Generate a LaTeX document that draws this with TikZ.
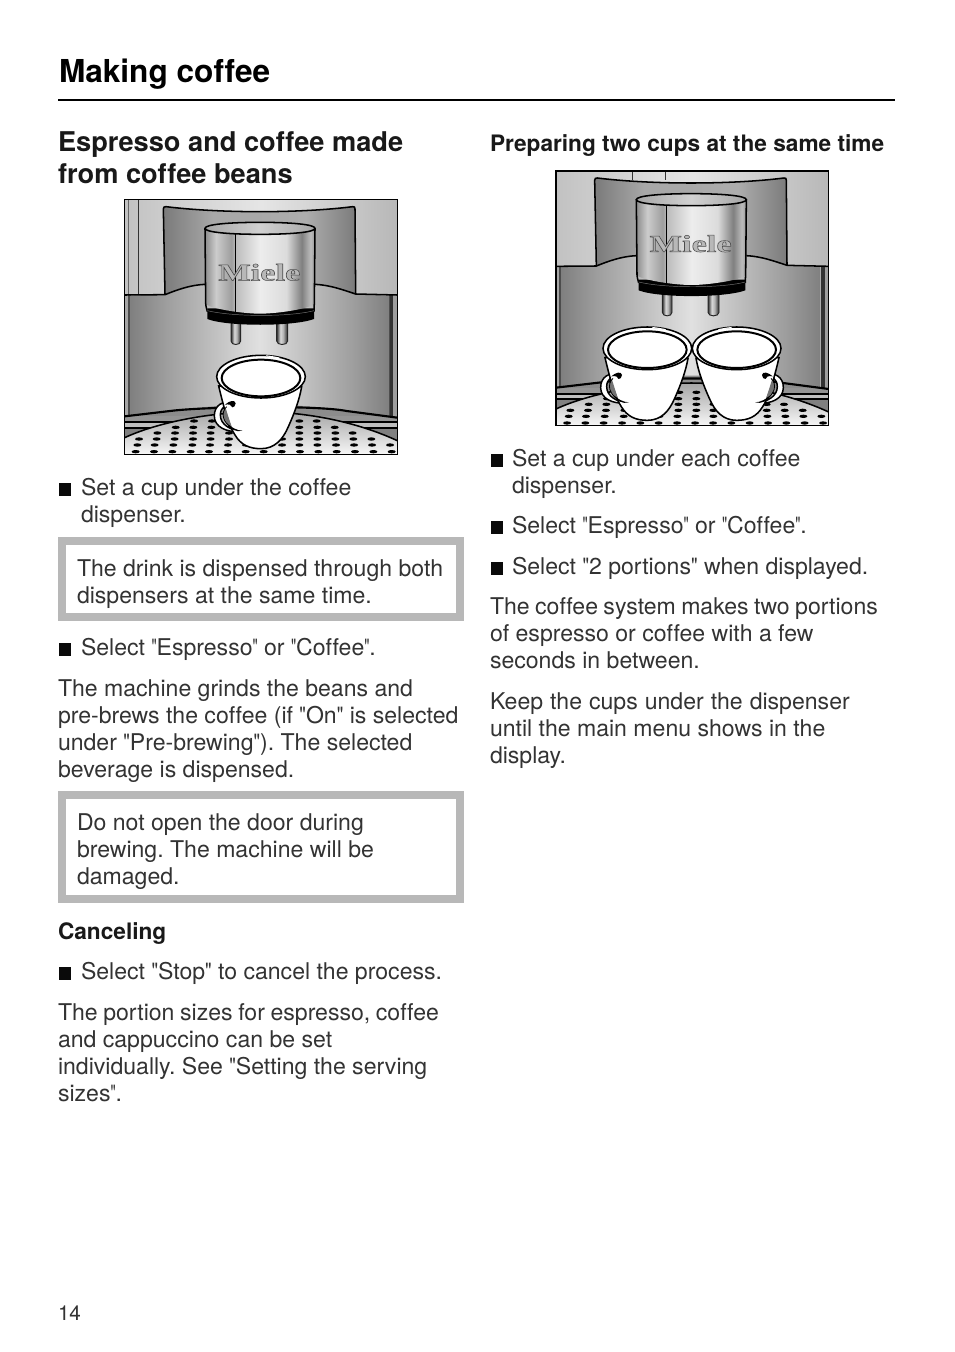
\documentclass[tikz,border=0pt]{standalone}
\usepackage{fontspec}
\usepackage{graphicx}
\setmainfont{TeX Gyre Heros}[Ligatures={TeXOff,NoCommon}]
\newfontfamily\logofont{Liberation Serif}
\usetikzlibrary{calc}
\definecolor{ink}{gray}{0.2}
\definecolor{boxgray}{gray}{0.72}
\newcommand{\qk}{\scalebox{0.8}[1]{"}}
\newcommand{\qw}{\scalebox{0.63}[1]{"}}
\pgfdeclarehorizontalshading{bgshade}{100bp}{color(0bp)=(black!20); color(25bp)=(black!24); color(50bp)=(black!10); color(75bp)=(black!28); color(100bp)=(black!28)}
\pgfdeclarehorizontalshading{uppershade}{100bp}{color(0bp)=(black!52); color(25bp)=(black!52); color(38bp)=(black!34); color(50bp)=(black!34); color(62bp)=(black!32); color(75bp)=(black!52); color(100bp)=(black!52)}
\pgfdeclarehorizontalshading{lowershade}{100bp}{color(0bp)=(black!50); color(25bp)=(black!50); color(32bp)=(black!38); color(50bp)=(black!12); color(68bp)=(black!38); color(75bp)=(black!50); color(100bp)=(black!50)}
\pgfdeclarehorizontalshading{cylshade}{100bp}{color(0bp)=(black!45); color(25bp)=(black!45); color(30bp)=(black!20); color(37bp)=(black!38); color(39bp)=(black!26); color(50bp)=(black!7); color(62bp)=(black!14); color(69bp)=(black!50); color(73bp)=(black!26); color(75bp)=(black!42); color(100bp)=(black!42)}
\pgfdeclarehorizontalshading{pipeshade}{100bp}{color(0bp)=(black!80); color(25bp)=(black!80); color(42bp)=(black!15); color(55bp)=(black!30); color(75bp)=(black!85); color(100bp)=(black!85)}
\tikzset{
  txt/.style={anchor=base west,inner sep=0pt,outer sep=0pt,text=ink,font=\fontsize{17.3pt}{20.475pt}\selectfont\frenchspacing},
  subhead/.style={txt,text=black!90,font=\fontsize{17.0pt}{20.475pt}\selectfont\bfseries\frenchspacing},
  head/.style={txt,text=black!90,font=\fontsize{20.4pt}{24pt}\selectfont\bfseries},
  title/.style={txt,text=black,font=\fontsize{23.7pt}{28pt}\selectfont\bfseries},
  pagenum/.style={txt,font=\fontsize{15.5pt}{18pt}\selectfont},
  bulletmark/.style={anchor=south west,inner sep=0pt,outer sep=0pt,minimum width=9.4pt,minimum height=9.4pt,fill=ink!120},
  notebox/.style={anchor=north west,inner sep=0pt,outer sep=0pt,draw=boxgray,fill=white,line width=6pt},
  edge/.style={line width=1.15pt,black},
  hair/.style={line width=0.45pt,black},
}
\newcommand{\paralines}[1]{\begin{tabular}[t]{@{}l@{}}#1\end{tabular}}
% cup: zoom coordinates; origin at the rim centre
\newcommand{\cupdraw}[4]{% #1 x, #2 y, #3 xscale, #4 rotation
 \begin{scope}[shift={(#1,#2)},rotate=#4,xscale=#3]
  % handle
  \draw[line width=1.1pt,fill=white] (-82,76) .. controls (-115,72) and (-140,85) .. (-140,118) .. controls (-140,150) and (-105,168) .. (-62,164) .. controls (-90,160) and (-122,145) .. (-122,115) .. controls (-122,92) and (-105,82) .. (-82,76) -- cycle;
  % body
  \draw[edge,fill=white] (-127,28) .. controls (-110,100) and (-95,150) .. (-78,175) .. controls (-60,205) and (-35,216) .. (0,216) .. controls (40,216) and (65,190) .. (82,150) .. controls (100,110) and (115,70) .. (122,30) -- cycle;
  % window in the handle
  \fill[black!55] (-106,94) .. controls (-120,108) and (-114,134) .. (-88,150) -- (-98,120) -- cycle;
  \draw[line width=0.6pt] (-103,90) .. controls (-122,108) and (-116,138) .. (-82,158);
  % tip of the handle
  \fill[black] (-108,84) .. controls (-95,72) and (-78,68) .. (-76,80) .. controls (-76,88) and (-82,92) .. (-86,92) .. controls (-88,84) and (-96,82) .. (-108,84) -- cycle;
  % foot of the handle
  \fill[black] (-104,138) .. controls (-92,158) and (-75,168) .. (-55,162) .. controls (-72,162) and (-90,152) .. (-104,138) -- cycle;
  % rim
  \draw[edge,fill=white] (0,0) ellipse [x radius=133,y radius=64];
  \draw[line width=1.5pt,fill=white] (0,4) ellipse [x radius=118,y radius=55];
  \draw[white,line width=0.8pt] (15,-62.5) .. controls (30,-61) and (45,-58) .. (55,-56);
 \end{scope}}
% illustration without cups; zoom coordinates: 3 units to the pixel
\newcommand{\machine}[2]{% #1 name prefix, #2 extra lines
  \begin{scope}
  \clip (14,14) rectangle (832,778);
  \shade[shading=bgshade] (14,14) rectangle (832,302);
  #2
  % side strips
  \fill[black!35] (14,300) rectangle (24,670);
  \fill[black!70] (24,300) rectangle (32,670);
  \fill[black!80] (808,300) rectangle (820,670);
  \fill[black!38] (820,300) rectangle (832,670);
  % lower panel
  \shade[shading=lowershade] (30,302) -- (135,298) .. controls (170,285) and (210,270) .. (255,268) -- (585,268) .. controls (630,270) and (670,285) .. (705,297) -- (808,302) -- (808,670) -- (30,670) -- cycle;
  % upper panel
  \shade[shading=uppershade] (135,298) -- (130,42) .. controls (130,36) and (133,35) .. (138,35) .. controls (300,55) and (540,55) .. (698,35) .. controls (703,35) and (705,36) .. (705,42) -- (708,297) .. controls (670,285) and (630,270) .. (585,268) -- (255,268) .. controls (210,270) and (170,285) .. (135,298) -- cycle;
  \draw[edge] (14,300) -- (135,299) .. controls (170,285) and (210,270) .. (255,268);
  \draw[edge] (585,268) .. controls (630,270) and (670,285) .. (707,297) -- (832,300);
  \draw[edge] (135,298) -- (130,42) .. controls (130,36) and (133,35) .. (138,35) .. controls (300,55) and (540,55) .. (698,35) .. controls (703,35) and (705,36) .. (705,42) -- (707,297);
  % bands under the panel
  \fill[black!45] (14,664) .. controls (150,648) and (280,628) .. (420,628) .. controls (560,628) and (700,648) .. (832,668) -- (832,778) -- (14,778) -- cycle;
  \fill[black!42] (14,664) rectangle (832,680);
  \fill[black!25] (14,684) rectangle (832,696);
  \fill[black!50] (14,700) rectangle (832,745);
  \draw[line width=1.6pt] (14,664) -- (150,648) .. controls (250,635) and (590,630) .. (680,648) -- (832,668);
  \draw[line width=1.3pt] (14,682) -- (832,682);
  \draw[line width=1.3pt] (14,698) -- (832,698);
  % tray
  \shade[top color=black!35,bottom color=black!3] (14,728) .. controls (100,688) and (250,652) .. (420,650) .. controls (590,652) and (730,690) .. (832,737) -- (832,778) -- (14,778) -- cycle;
  \draw[edge] (14,728) .. controls (100,688) and (250,652) .. (420,650) .. controls (590,652) and (730,690) .. (832,737);
  \begin{scope}
   \clip (14,728) .. controls (100,688) and (250,652) .. (420,650) .. controls (590,652) and (730,690) .. (832,737) -- (832,778) -- (14,778) -- cycle;
   \foreach \r/\xs in {678/{222,276,330,384,435,486,538,590},
                       697/{167,220,274,328,381,435,486,538,592,644},
                       714/{112,165,219,272,327,381,435,486,538,592,646,698},
                       732/{57,110,164,219,272,327,381,435,486,538,592,646,700,754},
                       750/{52,104,160,217,270,324,378,432,486,538,592,648,702,756,810},
                       770/{47,102,157,212,267,322,377,431,485,540,595,650,705,760,815}}{
     \foreach \c in \xs {\fill[black] (\c,\r) ellipse [x radius=12,y radius=5];}
   }
  \end{scope}
  \end{scope}
  % pipes
  \shade[shading=pipeshade] (333,380) -- (362,380) -- (362,438) .. controls (362,452) and (333,452) .. (333,438) -- cycle;
  \draw[line width=0.7pt,black!85] (333,380) -- (333,438) .. controls (333,452) and (362,452) .. (362,438) -- (362,380);
  \shade[shading=pipeshade] (470,380) -- (503,380) -- (503,438) .. controls (503,452) and (470,452) .. (470,438) -- cycle;
  \draw[line width=0.7pt,black!85] (470,380) -- (470,438) .. controls (470,452) and (503,452) .. (503,438) -- (503,380);
  % black collar
  \fill[black] (262,340) -- (582,340) -- (582,372) .. controls (520,395) and (320,395) .. (262,372) -- cycle;
  % cylinder
  \shade[shading=cylshade] (255,100) -- (585,100) -- (583,325) .. controls (583,338) and (480,356) .. (420,356) .. controls (360,356) and (258,338) .. (257,325) -- cycle;
  \draw[edge] (255,100) -- (257,325) .. controls (258,340) and (262,345) .. (262,350);
  \draw[edge] (585,100) -- (583,325) .. controls (582,340) and (582,345) .. (582,350);
  \draw[line width=0.35pt,black!55] (262,347) .. controls (340,366) and (510,366) .. (582,347);
  \shade[left color=black!35,right color=black!35,middle color=black!18,draw=none] (255,100) .. controls (255,88) and (330,82) .. (420,82) .. controls (510,82) and (585,88) .. (585,100) .. controls (585,112) and (510,118) .. (420,118) .. controls (330,118) and (255,112) .. (255,100) -- cycle;
  \draw[edge] (255,100) .. controls (255,88) and (330,82) .. (420,82) .. controls (510,82) and (585,88) .. (585,100) .. controls (585,112) and (510,118) .. (420,118) .. controls (330,118) and (255,112) .. (255,100) -- cycle;
  \draw[hair] (346,118) -- (346,352);
  \node[inner sep=0pt] (#1logo) at (418,232) {\fontsize{18pt}{18pt}\logofont\bfseries\scalebox{1.43}[1]{\special{pdf:code q 2 Tr 0.35 w 0.3 0.3 0.3 RG 0.72 0.72 0.72 rg}Miele\special{pdf:code Q}}};
}
\begin{document}
\begin{tikzpicture}[x=0.75pt,y=-0.75pt]
\useasboundingbox (0,0) rectangle (954,1352);
\fill[white] (0,0) rectangle (954,1352);
% page head
\node[title] (pagetitle) at (59,83) {Making coffee};
\coordinate (ruleL) at (58,100);
\coordinate (ruleR) at (895,100);
\draw[line width=1.5pt,black] (ruleL) -- (ruleR);
\node[head] (h1a) at (58,151.7) {Espresso and coffee made};
\node[head] (h1b) at (58,184) {from coffee beans};
\node[subhead] (h2) at (490,151.3) {Preparing two cups at the same time};
% illustration 1
\begin{scope}[shift={(120,195)},x=0.25pt,y=-0.25pt]
  \machine{a}{\draw[hair,black!80] (55,14) -- (55,300);\draw[hair,black!60] (26,14) -- (26,300);}
  \begin{scope}
  \clip (14,14) rectangle (832,778);
  \cupdraw{423}{545}{1}{0}
  \end{scope}
  \draw[line width=1.2pt,black] (14,14) rectangle (832,778);
\end{scope}
% illustration 2
\begin{scope}[shift={(551.33,166.33)},x=0.25pt,y=-0.25pt]
  \machine{b}{\draw[hair,black!80] (244,14) -- (244,42);\draw[hair,black!80] (342,14) -- (342,42);}
  \begin{scope}
  \clip (14,14) rectangle (832,778);
  \cupdraw{288}{546}{1}{0}
  \cupdraw{556}{546}{-1}{0}
  \end{scope}
  \draw[line width=1.2pt,black] (14,14) rectangle (832,778);
\end{scope}
% left column
\node[bulletmark] (b1) at (58.5,496) {};
\node[txt] (t1) at (81,495) {\paralines{Set a cup under the coffee\\dispenser.}};
\node[notebox,minimum width=298.5pt,minimum height=57pt] (box1) at (62,541) {};
\node[txt] (t2) at (77,576) {\paralines{The drink is dispensed through both\\dispensers at the same time.}};
\node[bulletmark] (b2) at (58.5,656) {};
\node[txt] (t3) at (81,655) {Select \qw Espresso\qw{} or \qw Coffee\qw.};
\node[txt] (t4) at (58,696) {\paralines{The machine grinds the beans and\\pre-brews the coffee (if \qk On\qk{} is selected\\under \qk Pre-brewing\qk). The selected\\beverage is dispensed.}};
\node[notebox,minimum width=298.5pt,minimum height=78pt] (box2) at (62,795) {};
\node[txt] (t5) at (77,830) {\paralines{Do not open the door during\\brewing. The machine will be\\damaged.}};
\node[subhead] (h3) at (58,939) {Canceling};
\node[bulletmark] (b3) at (58.5,980) {};
\node[txt] (t6) at (81,979) {Select \qk Stop\qk{} to cancel the process.};
\node[txt] (t7) at (58,1020) {\paralines{{\spaceskip=4.2pt The portion sizes for espresso, coffee}\\and cappuccino can be set\\individually. See \qk Setting the serving\\sizes\qw.}};
\node[pagenum] (pg) at (58,1320) {14};
% right column
\node[bulletmark] (b4) at (490.5,467) {};
\node[txt] (t8) at (512,466) {\paralines{Set a cup under each coffee\\dispenser.}};
\node[bulletmark] (b5) at (490.5,534) {};
\node[txt] (t9) at (512,533) {Select \qw Espresso\qw{} or \qw Coffee\qw.};
\node[bulletmark] (b6) at (490.5,575) {};
\node[txt] (t10) at (512,574) {Select \qk 2 portions\qk{} when displayed.};
\node[txt] (t11) at (490,614) {\paralines{{\spaceskip=4.05pt The coffee system makes two portions}\\of espresso or coffee with a few\\seconds in between.}};
\node[txt] (t12) at (490,709) {\paralines{{\spaceskip=5.25pt Keep the cups under the dispenser}\\until the main menu shows in the\\display.}};
\end{tikzpicture}
\end{document}
